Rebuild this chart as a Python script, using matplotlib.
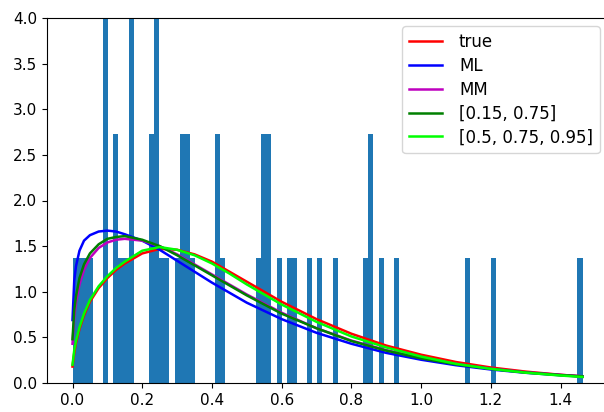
import numpy as np
import matplotlib
matplotlib.use("Agg")
import matplotlib.pyplot as plt

# histogram: 50 samples, 100 bins between min and max of the sample
x_min = 0.0
x_max = 1.463
bin_counts = [1, 1, 1, 1, 0, 0, 3, 0, 2, 1,
              1, 4, 0, 0, 0, 2, 3, 1, 1, 0,
              1, 2, 2, 1, 0, 0, 0, 0, 2, 1,
              0, 0, 0, 0, 0, 0, 1, 2, 2, 0,
              1, 0, 1, 1, 0, 0, 1, 0, 1, 0,
              0, 1, 0, 0, 0, 0, 0, 1, 2, 0,
              1, 0, 0, 1, 0, 0, 0, 0, 0, 0,
              0, 0, 0, 0, 0, 0, 0, 1, 0, 0,
              0, 0, 1, 0, 0, 0, 0, 0, 0, 0,
              0, 0, 0, 0, 0, 0, 0, 0, 0, 1]

# fitted densities
x_curve = [0.0, 0.005, 0.01, 0.02, 0.033, 0.05, 0.075, 0.1, 0.125, 0.15, 0.2, 0.25, 0.3,
           0.35, 0.4, 0.45, 0.5, 0.6, 0.7, 0.8, 0.9, 1.0, 1.1, 1.2, 1.3, 1.4, 1.463]
pdf_true = [0.18, 0.33, 0.44, 0.59, 0.74, 0.89, 1.04, 1.15, 1.24, 1.31, 1.42, 1.47, 1.46,
            1.41, 1.33, 1.22, 1.11, 0.89, 0.70, 0.54, 0.41, 0.31, 0.23, 0.17, 0.125, 0.09, 0.072]
pdf_ml = [0.69, 1.12, 1.28, 1.45, 1.56, 1.62, 1.66, 1.67, 1.66, 1.63, 1.56, 1.46, 1.34,
          1.22, 1.10, 0.99, 0.88, 0.70, 0.55, 0.43, 0.33, 0.255, 0.195, 0.148, 0.112, 0.085, 0.07]
pdf_mm = [0.43, 0.72, 0.88, 1.08, 1.24, 1.37, 1.48, 1.54, 1.57, 1.58, 1.56, 1.50, 1.41,
          1.30, 1.19, 1.08, 0.97, 0.77, 0.60, 0.465, 0.36, 0.275, 0.21, 0.158, 0.118, 0.089, 0.074]
pdf_q2 = [0.48, 0.80, 0.95, 1.15, 1.30, 1.42, 1.52, 1.58, 1.60, 1.61, 1.57, 1.50, 1.40,
          1.29, 1.18, 1.07, 0.96, 0.76, 0.60, 0.46, 0.355, 0.27, 0.205, 0.155, 0.115, 0.087, 0.072]
pdf_q3 = [0.20, 0.36, 0.46, 0.61, 0.76, 0.91, 1.06, 1.17, 1.26, 1.33, 1.45, 1.49, 1.46,
          1.40, 1.31, 1.20, 1.08, 0.86, 0.67, 0.51, 0.39, 0.29, 0.21, 0.155, 0.113, 0.082, 0.066]

fig = plt.figure(figsize=(6.04, 4.12), dpi=100)
ax = fig.add_axes([47 / 604, 29 / 412, 561 / 604, 365 / 412])

edges = np.linspace(x_min, x_max, len(bin_counts) + 1)
ax.hist(edges[:-1], bins=edges, weights=bin_counts, density=True)

lw = 1.8
ax.plot(x_curve, pdf_true, color="r", lw=lw, label="true")
ax.plot(x_curve, pdf_ml, color="b", lw=lw, label="ML")
ax.plot(x_curve, pdf_mm, color="m", lw=lw, label="MM")
ax.plot(x_curve, pdf_q2, color="g", lw=lw, label="[0.15, 0.75]")
ax.plot(x_curve, pdf_q3, color="lime", lw=lw, label="[0.5, 0.75, 0.95]")

ax.set_ylim(0, 4)
ax.spines["right"].set_visible(False)
ax.tick_params(labelsize=11)
ax.legend(loc="upper right", fontsize=12, labelspacing=0.35, handletextpad=1.0)

fig.savefig("out.png", dpi=100)
